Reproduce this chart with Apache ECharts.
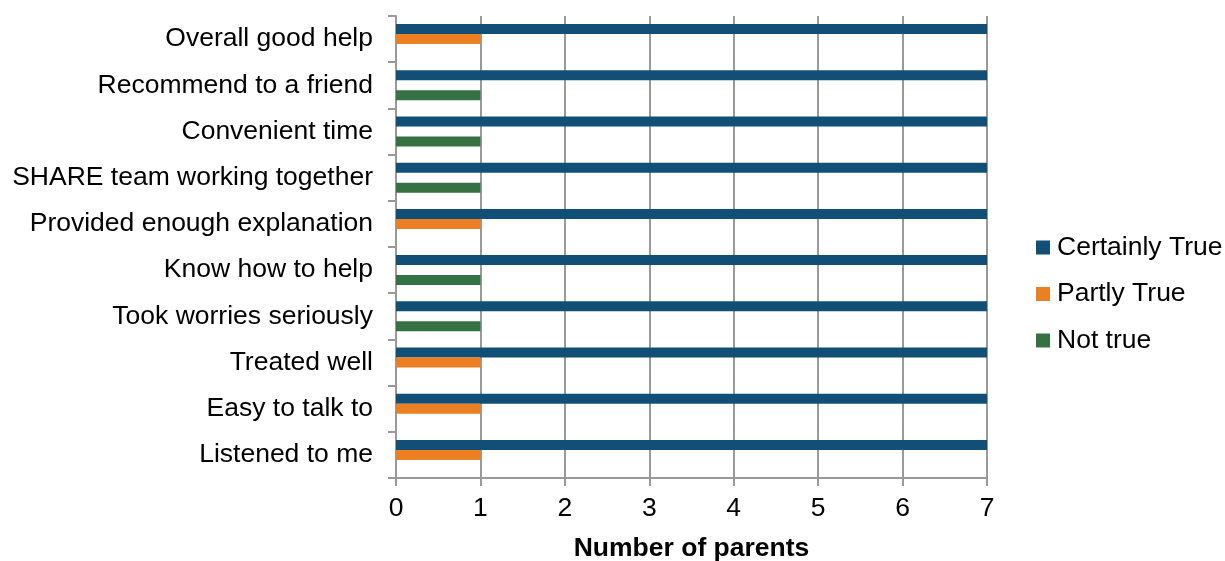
<!DOCTYPE html>
<html>
<head>
<meta charset="utf-8">
<script src="https://cdn.jsdelivr.net/npm/echarts@6/dist/echarts.min.js"></script>
<style>html,body{margin:0;padding:0;background:#fff}#c{width:1225px;height:561px}</style>
</head>
<body>
<div id="c"></div>
<script>
const categories = ['Listened to me', 'Easy to talk to', 'Treated well', 'Took worries seriously', 'Know how to help', 'Provided enough explanation', 'SHARE team working together', 'Convenient time', 'Recommend to a friend', 'Overall good help'];
const certainlyTrue = [7, 7, 7, 7, 7, 7, 7, 7, 7, 7];
const partlyTrue = [1, 1, 1, 0, 0, 1, 0, 0, 0, 1];
const notTrue = [0, 0, 0, 1, 1, 0, 1, 1, 1, 0];
const xTicks = [0, 1, 2, 3, 4, 5, 6, 7];

const font = 'Liberation Sans, Arial, sans-serif';
const fs = 26.5;
const chart = echarts.init(document.getElementById('c'));
chart.setOption({
  animation: false,
  textStyle: { fontFamily: font },
  grid: { left: 396, right: 238, top: 16, bottom: 83, containLabel: false, outerBoundsMode: 'none' },
  legend: {
    orient: 'vertical', left: 1031, top: 229,
    itemWidth: 14, itemHeight: 14, itemGap: 19.5,
    icon: 'rect',
    data: ['Certainly True', 'Partly True', 'Not true'],
    textStyle: { fontSize: fs, color: '#000', fontFamily: font, padding: [0, 0, 0, 2] }
  },
  xAxis: {
    type: 'value', min: xTicks[0], max: xTicks[xTicks.length - 1], interval: 1,
    name: 'Number of parents', nameLocation: 'middle', nameGap: 57,
    nameTextStyle: { fontSize: fs, fontWeight: 'bold', color: '#000', fontFamily: font },
    axisLine: { show: true, lineStyle: { color: '#999', width: 2 } },
    axisTick: { show: true, length: 8, lineStyle: { color: '#999', width: 2 } },
    axisLabel: { fontSize: fs, color: '#000', margin: 17, fontFamily: font },
    splitLine: { show: true, lineStyle: { color: '#999', width: 2 } }
  },
  yAxis: {
    type: 'category', data: categories,
    axisLine: { show: true, lineStyle: { color: '#999', width: 2 } },
    axisTick: { show: true, length: 8, lineStyle: { color: '#999', width: 2 } },
    axisLabel: { fontSize: fs, color: '#000', margin: 23, fontFamily: font },
    splitLine: { show: false }
  },
  series: [
    { name: 'Certainly True', type: 'bar', data: certainlyTrue, itemStyle: { color: '#124F77' }, barGap: '0%', barCategoryGap: '35%' },
    { name: 'Partly True', type: 'bar', data: partlyTrue, itemStyle: { color: '#EB7F22' }, barGap: '0%', barCategoryGap: '35%' },
    { name: 'Not true', type: 'bar', data: notTrue, itemStyle: { color: '#367144' }, barGap: '0%', barCategoryGap: '35%' }
  ]
});
</script>
</body>
</html>
